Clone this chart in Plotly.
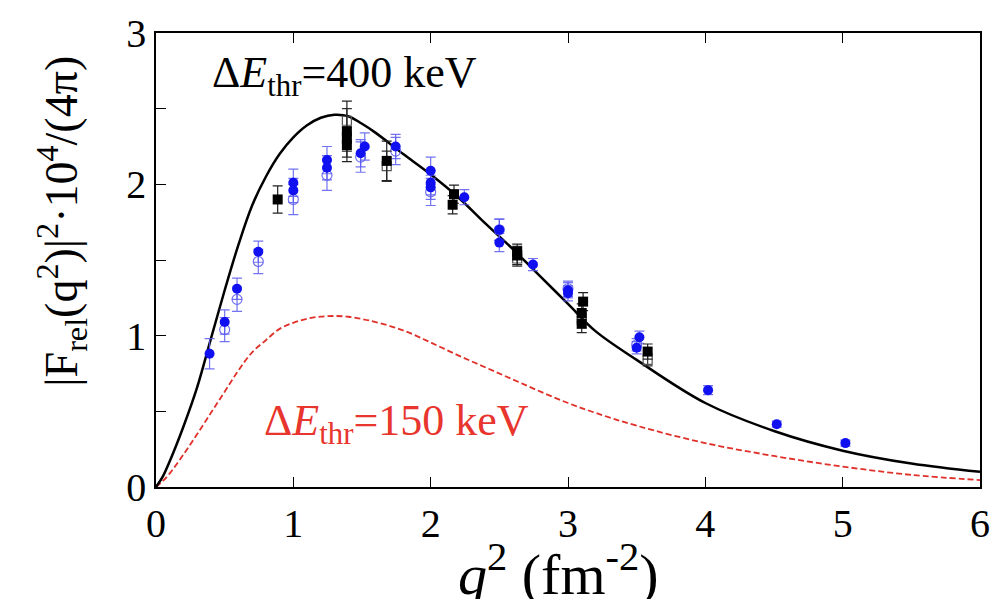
import plotly.graph_objects as go

# Model curves read along q^2 (fm^-2)
curve_q2 = [0, 0.05, 0.1, 0.2, 0.3, 0.4, 0.5, 0.6, 0.7, 0.8, 0.9, 1.0, 1.1, 1.2,
            1.3, 1.4, 1.5, 1.6, 1.8, 2.0, 2.2, 2.4, 2.6, 2.8, 3.0, 3.2, 3.5,
            4.0, 4.5, 5.0, 5.5, 6.0]
curve_400 = [0, 0.07, 0.17, 0.40, 0.66, 0.98, 1.30, 1.60, 1.86, 2.05, 2.20, 2.31,
             2.39, 2.44, 2.46, 2.45, 2.40, 2.34, 2.20, 2.065, 1.915, 1.74, 1.57,
             1.39, 1.21, 1.03, 0.84, 0.555, 0.37, 0.24, 0.155, 0.10]
curve_150 = [0, 0.04, 0.09, 0.215, 0.35, 0.49, 0.63, 0.77, 0.89, 0.97, 1.045, 1.085,
             1.112, 1.126, 1.13, 1.125, 1.11, 1.09, 1.035, 0.955, 0.87, 0.79, 0.71,
             0.63, 0.555, 0.49, 0.405, 0.29, 0.205, 0.135, 0.08, 0.046]

# Measured points, filled blue circles
blue_q2 = [0.39, 0.50, 0.59, 0.745, 1.0, 1.0, 1.245, 1.245, 1.49, 1.52, 1.745,
           2.0, 2.0, 2.0, 2.245, 2.5, 2.5, 2.745, 3.0, 3.0, 3.5, 3.52, 4.02,
           4.52, 5.02]
blue_val = [0.88, 1.09, 1.31, 1.555, 2.01, 1.96, 2.16, 2.11, 2.205, 2.25, 2.25,
            2.09, 2.01, 1.98, 1.915, 1.70, 1.615, 1.47, 1.30, 1.28, 0.92, 0.99,
            0.64, 0.415, 0.29]
blue_err = [0.10, 0.08, 0.07, 0.07, 0.09, 0.08, 0.09, 0.08, 0.09, 0.09, 0.08,
            0.09, 0.08, 0.08, 0.05, 0.07, 0.06, 0.04, 0.05, 0.05, 0.04, 0.04,
            0.03, 0.02, 0.02]

# Open blue circles
blue_open_q2 = [0.50, 0.59, 0.745, 1.0, 1.245, 1.49, 1.745, 2.0, 2.5, 3.0, 3.5]
blue_open_val = [1.04, 1.24, 1.49, 1.90, 2.06, 2.18, 2.22, 1.95, 1.70, 1.31, 0.94]
blue_open_err = [0.08, 0.08, 0.08, 0.10, 0.10, 0.10, 0.09, 0.09, 0.07, 0.05, 0.04]

# Filled black squares
black_q2 = [0.886, 1.39, 1.39, 1.39, 1.68, 2.16, 2.17, 2.63, 2.63, 3.10, 3.10,
            3.11, 3.58]
black_val = [1.90, 2.35, 2.30, 2.26, 2.155, 1.865, 1.935, 1.53, 1.555, 1.08,
             1.15, 1.225, 0.895]
black_err = [0.09, 0.20, 0.08, 0.08, 0.13, 0.06, 0.06, 0.06, 0.05, 0.06, 0.06,
             0.06, 0.05]

# Open black squares
black_open_q2 = [1.39, 1.68, 2.63, 3.10, 3.58]
black_open_val = [2.42, 2.12, 1.51, 1.10, 0.84]
black_open_err = [0.08, 0.10, 0.05, 0.05, 0.04]

x_ticks = [0, 1, 2, 3, 4, 5, 6]
y_ticks = [0, 0.5, 1, 1.5, 2, 2.5, 3]
y_tick_text = ["0", "", "1", "", "2", "", "3"]

SERIF = "Liberation Serif"
BLUE = "#1010f0"
BLUE_BAR = "rgba(90,90,240,0.85)"

fig = go.Figure()

fig.add_trace(go.Scatter(
    x=curve_q2, y=curve_150, mode="lines", line_shape="spline",
    line=dict(color="#e0302a", width=1.8, dash="6px,3px"), hoverinfo="skip"))
fig.add_trace(go.Scatter(
    x=curve_q2, y=curve_400, mode="lines", line_shape="spline",
    line=dict(color="black", width=2.5), hoverinfo="skip"))

fig.add_trace(go.Scatter(
    x=blue_open_q2, y=blue_open_val, mode="markers",
    marker=dict(symbol="circle-open", size=10, color=BLUE_BAR, line=dict(width=1.2)),
    error_y=dict(type="data", array=blue_open_err, color=BLUE_BAR,
                 thickness=1.2, width=5)))
fig.add_trace(go.Scatter(
    x=black_open_q2, y=black_open_val, mode="markers",
    marker=dict(symbol="square-open", size=9, color="#555555", line=dict(width=1.2)),
    error_y=dict(type="data", array=black_open_err, color="#333333",
                 thickness=1.2, width=5)))
fig.add_trace(go.Scatter(
    x=blue_q2, y=blue_val, mode="markers",
    marker=dict(symbol="circle", size=10, color=BLUE),
    error_y=dict(type="data", array=blue_err, color=BLUE_BAR,
                 thickness=1.2, width=5)))
fig.add_trace(go.Scatter(
    x=black_q2, y=black_val, mode="markers",
    marker=dict(symbol="square", size=10, color="black"),
    error_y=dict(type="data", array=black_err, color="#222222",
                 thickness=1.2, width=5)))

fig.add_annotation(
    x=0.39, y=2.72, xref="x", yref="y", xanchor="left", yanchor="middle",
    text="Δ<i>E</i><sub>thr</sub>=400 keV", showarrow=False,
    font=dict(family=SERIF, size=44, color="black"))
fig.add_annotation(
    x=0.77, y=0.42, xref="x", yref="y", xanchor="left", yanchor="middle",
    text="Δ<i>E</i><sub>thr</sub>=150 keV", showarrow=False,
    font=dict(family=SERIF, size=44, color="#e8352d"))

# Axis titles
fig.add_annotation(
    x=-0.115, y=0.585, xref="paper", yref="paper", xanchor="center", yanchor="middle",
    textangle=-90, showarrow=False,
    text="|F<sub>rel</sub>(q<sup>2</sup>)|<sup>2</sup>·10<sup>4</sup>/(4π)",
    font=dict(family=SERIF, size=46, color="black"))
fig.add_annotation(
    x=0.488, y=-0.184, xref="paper", yref="paper", xanchor="center", yanchor="middle",
    showarrow=False, text="<i>q</i><sup>2</sup> (fm<sup>-2</sup>)",
    font=dict(family=SERIF, size=58, color="black"))

axis_common = dict(
    showgrid=False, zeroline=False, showline=True, linecolor="black", linewidth=1.5,
    ticks="inside", ticklen=10, tickwidth=1.2, tickcolor="black",
    tickfont=dict(family=SERIF, size=40, color="black"))

fig.update_xaxes(range=[0, 6], tickvals=x_ticks, mirror="ticks", **axis_common)
fig.update_yaxes(range=[0, 3], tickvals=y_ticks, ticktext=y_tick_text,
                 mirror=True, **axis_common)

fig.update_layout(
    width=1001, height=599,
    margin=dict(l=156, r=21, t=33, b=112),
    plot_bgcolor="white", paper_bgcolor="white",
    font=dict(family=SERIF),
    showlegend=False)

fig.write_html("out.html")
